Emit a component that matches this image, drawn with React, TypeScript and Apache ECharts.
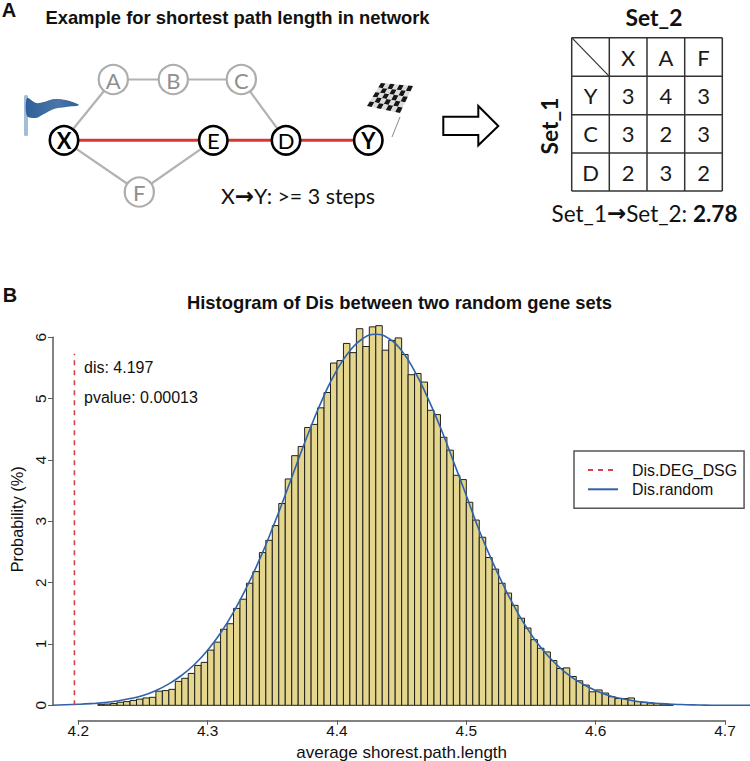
import React, { useEffect, useRef } from "react";
import * as echarts from "echarts";

// ---------- data ----------
const binStart = 4.215;
const binWidth = 0.005;
const binValues = [
  0.01, 0.02, 0.03, 0.05, 0.06, 0.08, 0.10, 0.12, 0.13, 0.23, 0.24, 0.26, 0.39, 0.44, 0.52, 0.65, 0.70,
  0.90, 1.03, 1.24, 1.33, 1.58, 1.73, 1.99, 2.18, 2.49, 2.69, 2.93, 3.29, 3.69, 4.07, 4.22, 4.53, 4.58,
  4.85, 5.10, 5.58, 5.62, 5.90, 5.75, 6.14, 5.85, 6.17, 6.19, 5.79, 5.95, 5.99, 5.72, 5.39, 5.41, 5.27,
  4.81, 4.74, 4.37, 4.16, 3.75, 3.68, 3.31, 3.02, 2.74, 2.41, 2.22, 1.99, 1.83, 1.63, 1.42, 1.26, 1.07,
  0.93, 0.87, 0.73, 0.60, 0.61, 0.47, 0.40, 0.33, 0.22, 0.25, 0.20, 0.14, 0.11, 0.11, 0.12, 0.06, 0.05,
  0.04, 0.03, 0.02, 0.01,
];
const curveX = [
  4.18, 4.19, 4.2, 4.21, 4.22, 4.23, 4.24, 4.25, 4.26, 4.27, 4.28, 4.29, 4.3, 4.31, 4.32, 4.33, 4.34, 4.35,
  4.36, 4.37, 4.38, 4.39, 4.4, 4.41, 4.42, 4.43, 4.44, 4.45, 4.46, 4.47, 4.48, 4.49, 4.5, 4.51, 4.52, 4.53,
  4.54, 4.55, 4.56, 4.57, 4.58, 4.59, 4.6, 4.61, 4.62, 4.63, 4.64, 4.65, 4.66, 4.67, 4.68, 4.69, 4.7, 4.71, 4.72,
];
const curveY = [
  0.0, 0.01, 0.016, 0.027, 0.044, 0.07, 0.11, 0.16, 0.24, 0.35, 0.49, 0.67, 0.9, 1.18, 1.52, 1.92, 2.37, 2.88,
  3.43, 4.0, 4.55, 5.05, 5.47, 5.78, 5.98, 6.05, 5.98, 5.78, 5.45, 5.02, 4.53, 3.98, 3.42, 2.85, 2.35, 1.9,
  1.5, 1.16, 0.88, 0.66, 0.48, 0.35, 0.24, 0.16, 0.11, 0.07, 0.044, 0.027, 0.016, 0.01, 0.005, 0.0, 0.0, 0.0, 0.0,
];
const disValue = 4.197;
const disLineTop = 5.73;
const yTicks = { min: 0, max: 6, interval: 1 };
const xTicks = { min: 4.2, max: 4.7, interval: 0.1 };

const tableCols = ["X", "A", "F"];
const tableRows = ["Y", "C", "D"];
const tableValues = [
  [3, 4, 3],
  [3, 2, 3],
  [2, 3, 2],
];

const grayEdges = [["X", "A"], ["A", "B"], ["B", "C"], ["C", "D"], ["X", "F"], ["F", "E"]];
const redEdges = [["X", "E"], ["E", "D"], ["D", "Y"]];
const nodesPath = ["X", "E", "D", "Y"];

// ---------- layout ----------
const nodePos: Record<string, [number, number]> = {
  A: [113.3, 79.5], B: [173.3, 79.5], C: [241.3, 79.5],
  X: [64, 140.3], E: [213.3, 140.3], D: [286, 140.3], Y: [368.3, 140.3],
  F: [139.3, 192],
};
const SANS = "'Liberation Sans', Arial, sans-serif";
const CAL = "Lato, 'Noto Sans', sans-serif";
const PX_X0 = 78.3, PX_PER = 1293.4;
const xMinMain = 4.2 + (53 - PX_X0) / PX_PER;
const xMaxMain = 4.2 + (750 - PX_X0) / PX_PER;

function txt(text: string, x: number, y: number, fontSize: number, opt: any = {}) {
  const { rotation, ...style } = opt;
  return {
    type: "text", x, y, rotation: rotation || 0, z: 20,
    style: { text, fontSize, fontFamily: CAL, fill: "#1a1a1a", align: "center", verticalAlign: "middle", ...style },
  };
}
function seg(a: [number, number], b: [number, number], stroke: string, lineWidth: number, z = 5) {
  return { type: "line", z, shape: { x1: a[0], y1: a[1], x2: b[0], y2: b[1] }, style: { stroke, lineWidth } };
}

function buildGraphics() {
  const g: any[] = [];
  const arrowRich = { fontSize: 23, fontFamily: "'DejaVu Sans'", fontWeight: "bold", fill: "#111", color: "#111" };
  g.push(txt("A", 9, 10, 20, { fontFamily: SANS, fontWeight: "bold", fill: "#111" }));
  g.push(txt("B", 10, 295, 20, { fontFamily: SANS, fontWeight: "bold", fill: "#111" }));
  g.push(txt("Example for shortest path length in network", 237.5, 17, 18.4, { fontFamily: SANS, fontWeight: "bold", fill: "#111" }));
  g.push(txt("Histogram of Dis between two random gene sets", 399.5, 302, 18.4, { fontFamily: SANS, fontWeight: "bold", fill: "#111" }));

  grayEdges.forEach(([a, b]) => g.push(seg(nodePos[a], nodePos[b], "#b2b2b2", 2.2)));
  redEdges.forEach(([a, b]) => g.push(seg(nodePos[a], nodePos[b], "#d93636", 3, 6)));
  Object.keys(nodePos).forEach((k) => {
    const active = nodesPath.includes(k);
    g.push({
      type: "circle", z: 10, shape: { cx: nodePos[k][0], cy: nodePos[k][1], r: active ? 14.2 : 14.6 },
      style: { fill: "#fff", stroke: active ? "#000" : "#adadad", lineWidth: active ? 2.6 : 2.2 },
    });
    g.push(txt(k, nodePos[k][0], nodePos[k][1] + 0.5, 22, {
      fill: active ? "#000" : "#8f8f8f",
      fontWeight: k === "X" || k === "Y" ? "bold" : "normal",
    }));
  });

  // start flag
  g.push({ type: "rect", z: 4, shape: { x: 24, y: 95, width: 4, height: 41, r: 1.5 }, style: { fill: "#a3bcd8" } });
  g.push({
    type: "polygon", z: 5,
    shape: { points: [[27, 98], [36, 103], [44, 102], [54, 99], [66, 100], [79, 105], [66, 107], [54, 109], [44, 114], [36, 118], [27, 116]], smooth: 0.3 },
    style: { fill: new echarts.graphic.LinearGradient(0, 0, 1, 0, [{ offset: 0, color: "#2f5f9a" }, { offset: 0.6, color: "#4a76a8" }, { offset: 1, color: "#2f5f9a" }]) },
  });
  // chequered flag
  const tl = [381, 83], tr = [413, 86], bl = [367, 106], br = [400, 113];
  const nx = 7, ny = 5;
  const P = (u: number, v: number) => [
    tl[0] * (1 - u) * (1 - v) + tr[0] * u * (1 - v) + bl[0] * (1 - u) * v + br[0] * u * v,
    tl[1] * (1 - u) * (1 - v) + tr[1] * u * (1 - v) + bl[1] * (1 - u) * v + br[1] * u * v,
  ];
  for (let i = 0; i < nx; i++) for (let j = 0; j < ny; j++) {
    const pts = [P(i / nx, j / ny), P((i + 1) / nx, j / ny), P((i + 1) / nx, (j + 1) / ny), P(i / nx, (j + 1) / ny)];
    g.push({ type: "polygon", z: 5, shape: { points: pts }, style: { fill: (i + j) % 2 === 0 ? "#161616" : "#dcdcdc" } });
  }
  g.push(seg([400, 117], [392, 137], "#8a8a7a", 1));

  g.push(txt("{n|X}{a|\u2192}{n|Y: >= 3 steps}", 298, 196, 21.4, {
    fill: "#111",
    rich: {
      n: { fontSize: 21.4, fontFamily: CAL, fill: "#111", color: "#111" },
      a: arrowRich,
    },
  }));

  // hollow arrow
  g.push({
    type: "polygon", z: 5,
    shape: { points: [[443.3, 116.7], [478.3, 116.7], [478.3, 106], [498.3, 126], [478.3, 145.3], [478.3, 135], [443.3, 135]] },
    style: { fill: "#fff", stroke: "#000", lineWidth: 2 },
  });

  // table
  const xs = [571.7, 609.3, 647, 684.7, 722.3];
  const ys = [37.7, 76.3, 114.7, 153, 191];
  xs.forEach((x) => g.push(seg([x, ys[0]], [x, ys[4]], "#333", 1.5)));
  ys.forEach((y) => g.push(seg([xs[0], y], [xs[4], y], "#333", 1.5)));
  g.push(seg([xs[0], ys[0]], [xs[1], ys[1]], "#333", 1.2));
  const cx = (i: number) => (xs[i] + xs[i + 1]) / 2;
  const cy = (i: number) => (ys[i] + ys[i + 1]) / 2;
  tableCols.forEach((c, i) => g.push(txt(c, cx(i + 1), cy(0), 22)));
  tableRows.forEach((r, j) => {
    g.push(txt(r, cx(0), cy(j + 1), 22));
    tableValues[j].forEach((v, i) => g.push(txt(String(v), cx(i + 1), cy(j + 1), 22)));
  });
  g.push(txt("Set_2", 654, 17, 22.8, { fontWeight: "bold", fill: "#111" }));
  g.push(txt("Set_1", 549.3, 126, 22.8, { fontWeight: "bold", fill: "#111", rotation: Math.PI / 2 }));
  g.push(txt("{n|Set_1}{a|\u2192}{n|Set_2: }{b|2.78}", 644.5, 213, 22.5, {
    rich: {
      n: { fontSize: 22.5, fontFamily: CAL, fill: "#111", color: "#111" },
      a: arrowRich,
      b: { fontSize: 22.5, fontFamily: CAL, fontWeight: "bold", fill: "#111", color: "#111" },
    },
  }));

  // annotations
  g.push(txt("dis: " + disValue, 84, 367, 16, { fontFamily: SANS, align: "left", fill: "#111" }));
  g.push(txt("pvalue: 0.00013", 84, 397, 16, { fontFamily: SANS, align: "left", fill: "#111" }));
  return g;
}

function renderBin(params: any, api: any) {
  const tl = api.coord([api.value(0), api.value(2)]);
  const br = api.coord([api.value(1), 0]);
  return {
    type: "rect",
    shape: { x: tl[0], y: tl[1], width: br[0] - tl[0], height: br[1] - tl[1] },
    style: { fill: "#e4d78d", stroke: "#1f1f1f", lineWidth: 1 },
  };
}

export default function App() {
  const ref = useRef<HTMLDivElement>(null);
  useEffect(() => {
    const chart = echarts.init(ref.current!, null, { renderer: "svg" });
    const axisGray = "#5a5a5a";
    chart.setOption({
      animation: false,
      backgroundColor: "#fff",
      textStyle: { fontFamily: SANS },
      graphic: buildGraphics(),
      legend: {
        left: 574, top: 451, orient: "vertical",
        padding: [11, 7, 11, 13],
        itemWidth: 30, itemHeight: 14, itemGap: 3.3,
        borderColor: "#555", borderWidth: 1.5,
        data: ["Dis.DEG_DSG", "Dis.random"],
        itemStyle: { color: "transparent", borderColor: "transparent", borderWidth: 0 },
        textStyle: { fontFamily: SANS, fontSize: 15.9, color: "#111", padding: [0, 0, 0, 9] },
      },
      grid: [
        { left: 53, right: 0, top: 337.3, height: 368 },
        { left: PX_X0, width: 646.7, top: 720, height: 1 },
      ],
      xAxis: [
        { type: "value", gridIndex: 0, min: xMinMain, max: xMaxMain, show: false },
        {
          type: "value", gridIndex: 1, min: xTicks.min, max: xTicks.max, interval: xTicks.interval,
          splitLine: { show: false },
          axisLine: { lineStyle: { color: axisGray, width: 1.5 } },
          axisTick: { length: 4.5, lineStyle: { color: axisGray, width: 1 } },
          axisLabel: { color: "#111", fontSize: 15.4, margin: 3, fontFamily: SANS },
          name: "average shorest.path.length", nameLocation: "middle", nameGap: 24,
          nameTextStyle: { color: "#111", fontSize: 17, fontFamily: SANS },
        },
      ],
      yAxis: [
        {
          type: "value", gridIndex: 0, min: yTicks.min, max: yTicks.max, interval: yTicks.interval,
          splitLine: { show: false },
          axisLine: { show: true, lineStyle: { color: axisGray, width: 1.5 } },
          axisTick: { show: true, length: 5, lineStyle: { color: axisGray, width: 1 } },
          axisLabel: { color: "#111", fontSize: 15.4, rotate: 90, margin: 5, fontFamily: SANS },
          name: "Probability (%)", nameLocation: "middle", nameGap: 21, nameRotate: 90,
          nameTextStyle: { color: "#111", fontSize: 16.3, fontFamily: SANS, padding: [0, 0, 0, 4] },
        },
        { type: "value", gridIndex: 1, show: false, min: 0, max: 1 },
      ],
      series: [
        {
          name: "Histogram", type: "custom", xAxisIndex: 0, yAxisIndex: 0, clip: false,
          renderItem: renderBin,
          encode: { x: [0, 1], y: 2 },
          data: binValues.map((v, i) => [binStart + binWidth * i, binStart + binWidth * (i + 1), v]),
        },
        {
          name: "Dis.random", type: "line", xAxisIndex: 0, yAxisIndex: 0, clip: false, smooth: true,
          showSymbol: false, symbol: "none",
          lineStyle: { color: "#2f62a8", width: 1.6 },
          itemStyle: { color: "#2f62a8" },
          data: curveX.map((x, i) => [x, curveY[i]]),
          z: 5,
        },
        {
          name: "Dis.DEG_DSG", type: "line", xAxisIndex: 0, yAxisIndex: 0, clip: false,
          showSymbol: false, symbol: "none",
          lineStyle: { color: "#d8434a", width: 1.6, type: [5, 5] },
          itemStyle: { color: "#d8434a" },
          data: [[disValue, 0], [disValue, disLineTop]],
          z: 6,
        },
      ],
    });
    return () => chart.dispose();
  }, []);
  return <div ref={ref} style={{ position: "fixed", left: 0, top: 0, width: 750, height: 761 }} />;
}
